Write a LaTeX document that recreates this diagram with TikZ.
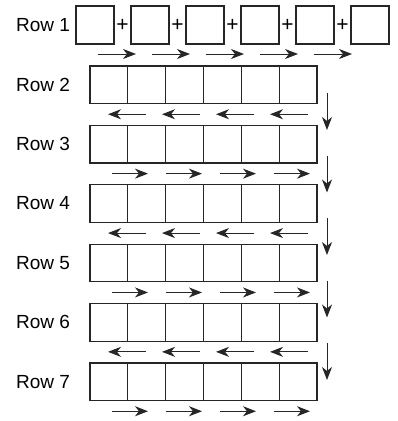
\documentclass[tikz,border=0pt]{standalone}
\usepackage{fontspec}
\setmainfont{Liberation Sans}
\usetikzlibrary{arrows.meta,calc}

\begin{document}
\begin{tikzpicture}[x=1pt, y=-1pt, every node/.style={font=\fontsize{19}{22}\selectfont, inner sep=0pt},
    box/.style={draw=black!85, line width=1.2pt, minimum size=38pt},
    cell/.style={draw=black!85, line width=1.2pt, minimum width=37.83pt, minimum height=37.5pt},
    flow/.style={-{Stealth[length=13pt, width=10pt, inset=4pt]}, line width=1pt, black!85}]
    \useasboundingbox (0,0) rectangle (397,421);
    % first row: separate squares joined by plus signs
    \node[anchor=west] (lab1) at (16,25) {Row 1};
    \foreach \j in {1,...,6}
        \node[box] (r1c\j) at ({95+55*(\j-1)},25) {};
    \foreach \j [evaluate=\j as \k using int(\j+1)] in {1,...,5}
        \node[font=\fontsize{21}{24}\selectfont] (plus\j) at ($(r1c\j.east)!0.5!(r1c\k.west)$) {+};
    \foreach \k in {0,...,4} {
        \coordinate (t1\k) at ({98+54*\k},54);
        \coordinate (h1\k) at ({136+54*\k},54);
        \draw[flow] (t1\k) -- (h1\k);
    }
    % rows 2 to 7: joined strips of six cells
    \foreach \i in {2,...,7} {
        \pgfmathsetmacro{\yc}{84.75+59.4*(\i-2)}
        \node[anchor=west] (lab\i) at (16,\yc) {Row \i};
        \foreach \j in {1,...,6}
            \node[cell] (r\i c\j) at ({90+37.83*(\j-0.5)},\yc) {};
        \foreach \k in {0,...,3} {
            \ifodd\i
                \coordinate (t\i\k) at ({112+54*\k},\yc+29.5);
                \coordinate (h\i\k) at ({148+54*\k},\yc+29.5);
            \else
                \coordinate (t\i\k) at ({146+54*\k},\yc+29.5);
                \coordinate (h\i\k) at ({108+54*\k},\yc+29.5);
            \fi
            \draw[flow] (t\i\k) -- (h\i\k);
        }
    }
    % down arrows on the right
    \foreach \k in {0,...,4} {
        \coordinate (dt\k) at (327,{93+62.5*\k});
        \coordinate (dh\k) at (327,{130+62.5*\k});
        \draw[flow] (dt\k) -- (dh\k);
    }
\end{tikzpicture}
\end{document}
